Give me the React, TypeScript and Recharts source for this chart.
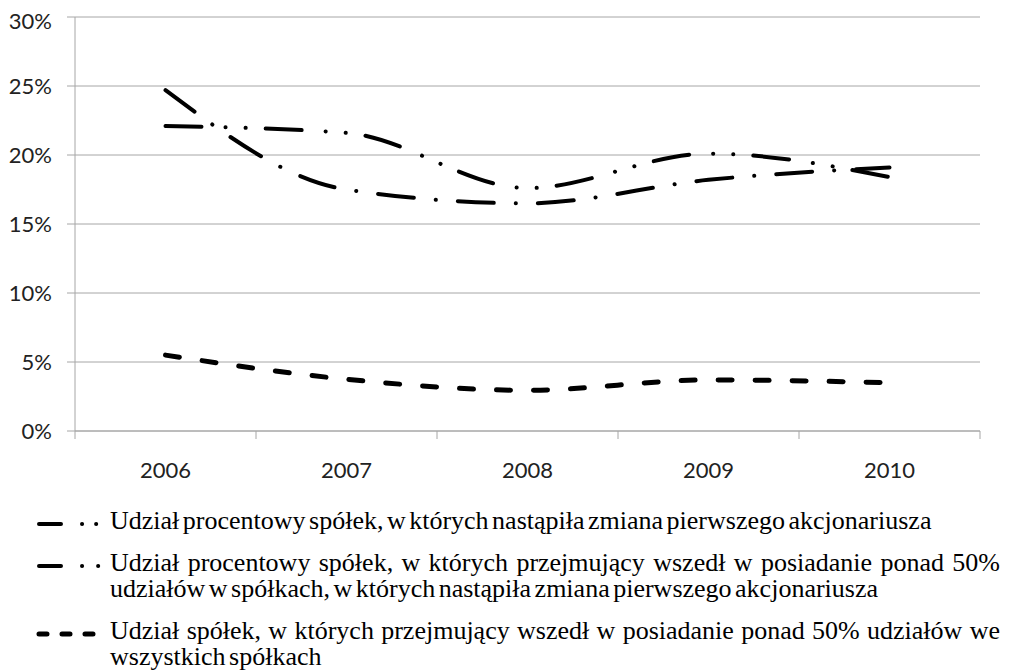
import React from "react";
import { LineChart, Line, XAxis, YAxis, CartesianGrid } from "recharts";

const years = ["2006", "2007", "2008", "2009", "2010"];
const firstHolderChange = [22.1, 21.6, 17.6, 20.1, 18.4];
const over50InChanged = [24.7, 17.5, 16.5, 18.2, 19.1];
const over50InAll = [5.5, 3.75, 2.95, 3.7, 3.5];
const yTicks = [0, 5, 10, 15, 20, 25, 30];

const series = [
  {
    key: "a",
    label:
      "Udział procentowy spółek, w których nastąpiła zmiana pierwszego akcjonariusza",
    dash: "36 24 0.1 20 0.1 20",
    legendDash: "22 21 0.1 14 0.1 100",
    legendEnd: 62,
    width: 4,
  },
  {
    key: "b",
    label:
      "Udział procentowy spółek, w których przejmujący wszedł w posiadanie ponad 50% udziałów w spółkach, w których nastąpiła zmiana pierwszego akcjonariusza",
    dash: "36 22 0.1 22",
    legendDash: "22 21 0.1 16 0.1 100",
    legendEnd: 64,
    width: 4,
  },
  {
    key: "c",
    label:
      "Udział spółek, w których przejmujący wszedł w posiadanie ponad 50% udziałów we wszystkich spółkach",
    dash: "14 23",
    legendDash: "8 15",
    legendEnd: 58,
    width: 5,
  },
];

const data = years.map((year, i) => ({
  year,
  a: firstHolderChange[i],
  b: over50InChanged[i],
  c: over50InAll[i],
}));

const CHART_W = 1000;
const CHART_H = 480;
const Y_W = 67;
const X_H = 57;
const MARGIN = { top: 9, right: 28, left: 0, bottom: 0 };
const BAND = (CHART_W - Y_W - MARGIN.right) / years.length;
const GRID = "#a6a6a6";
const tickFont = "Lato, 'Open Sans', sans-serif";

const YearTick = (props: any) => {
  const { x, y, payload, index } = props;
  return (
    <g>
      <line x1={x - BAND / 2} x2={x - BAND / 2} y1={y} y2={y + 8} stroke={GRID} />
      {index === years.length - 1 && (
        <line x1={x + BAND / 2} x2={x + BAND / 2} y1={y} y2={y + 8} stroke={GRID} />
      )}
      <text
        x={x}
        y={y + 39}
        dy="0.35em"
        textAnchor="middle"
        fill="#222"
        fontSize={22}
        fontFamily={tickFont}
      >
        {payload.value}
      </text>
    </g>
  );
};

const App: React.FC = () => {
  return (
    <div style={{ width: CHART_W }}>
      <LineChart width={CHART_W} height={CHART_H} data={data} margin={MARGIN}>
        <CartesianGrid vertical={false} stroke={GRID} />
        <XAxis
          dataKey="year"
          interval={0}
          padding={{ left: BAND / 2, right: BAND / 2 }}
          axisLine={{ stroke: GRID }}
          tickLine={false}
          tickSize={0}
          tickMargin={0}
          height={X_H}
          tick={<YearTick />}
        />
        <YAxis
          width={Y_W}
          domain={[0, 30]}
          ticks={yTicks}
          tickFormatter={(v: number) => `${v}%`}
          axisLine={{ stroke: GRID }}
          tickLine={{ stroke: GRID }}
          tickSize={8}
          tickMargin={15}
          tick={{ fill: "#222", fontSize: 22, fontFamily: tickFont }}
        />
        {series.map((s) => (
          <Line
            key={s.key}
            dataKey={s.key}
            type="monotone"
            stroke="#000"
            strokeWidth={s.width}
            strokeDasharray={s.dash}
            strokeLinecap="round"
            dot={false}
            activeDot={false}
            isAnimationActive={false}
          />
        ))}
      </LineChart>
      <div
        style={{
          marginTop: 20,
          fontFamily: "'Liberation Serif', 'Times New Roman', serif",
          fontSize: 26,
          lineHeight: "26px",
          color: "#000",
        }}
      >
        {series.map((s) => (
          <div key={s.key} style={{ display: "flex", alignItems: "flex-start", marginBottom: 16 }}>
            <svg width={75} height={26} style={{ marginLeft: 27, flex: "none" }}>
              <line
                x1={4}
                x2={s.legendEnd}
                y1={16}
                y2={16}
                stroke="#000"
                strokeWidth={s.width}
                strokeDasharray={s.legendDash}
                strokeLinecap="round"
              />
            </svg>
            <div style={{ width: 890, textAlign: "justify", wordSpacing: -3 }}>{s.label}</div>
          </div>
        ))}
      </div>
    </div>
  );
};

export default App;
